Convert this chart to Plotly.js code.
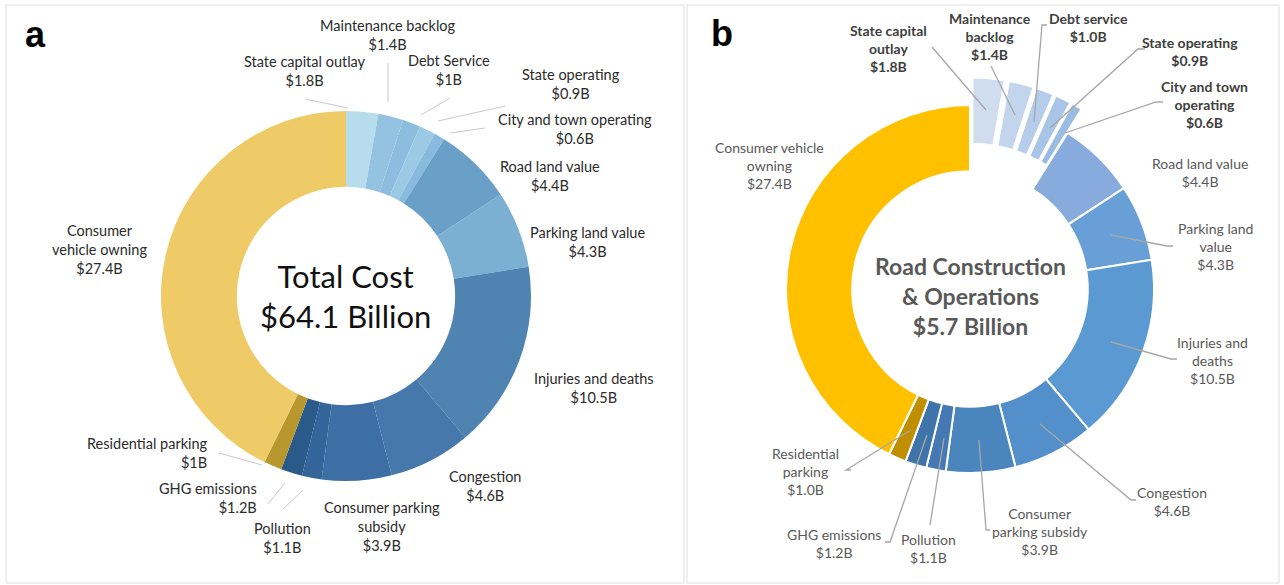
<!DOCTYPE html>
<html>
<head>
<meta charset="utf-8">
<script src="https://cdn.plot.ly/plotly-3.0.1.min.js"></script>
<style>html,body{margin:0;padding:0;background:#fff;}#chart{width:1284px;height:585px;}</style>
</head>
<body>
<div id="chart"></div>
<script>
// ---------- DATA ----------
const categories = ["State capital outlay","Maintenance backlog","Debt service","State operating","City and town operating","Road land value","Parking land value","Injuries and deaths","Congestion","Consumer parking subsidy","Pollution","GHG emissions","Residential parking","Consumer vehicle owning"];
const values = [1.8, 1.4, 1.0, 0.9, 0.6, 4.4, 4.3, 10.5, 4.6, 3.9, 1.1, 1.2, 1.0, 27.4];
const labelNamesA = ["State capital outlay","Maintenance backlog","Debt Service","State operating","City and town operating","Road land value","Parking land value","Injuries and deaths","Congestion","Consumer parking<br>subsidy","Pollution","GHG emissions","Residential parking","Consumer<br>vehicle owning"];
const labelNamesB = ["State capital<br>outlay","Maintenance<br>backlog","Debt service","State operating","City and town<br>operating","Road land value","Parking land<br>value","Injuries and<br>deaths","Congestion","Consumer<br>parking subsidy","Pollution","GHG emissions","Residential<br>parking","Consumer vehicle<br>owning"];
const pulledB = [true, true, true, true, true, false, false, false, false, false, false, false, false, false];
const totalA = "Total Cost<br>$64.1 Billion";
const totalB = "<b>Road Construction<br>&amp; Operations<br>$5.7 Billion</b>";

// ---------- STYLE ----------
const W = 1284, H = 585;
const colorsA = ["#b7dcec","#93c3e1","#8cbddf","#9ccae4","#87badd","#6a9fc8","#7bb0d3","#4f83b1","#4678ac","#3d6fa5","#33659a","#2a5a8a","#b8982e","#eecb66"];
const colorsB = ["#d0ddef","#c3d5ec","#b5cdea","#a8c4e6","#9bbce2","#87abdc","#679fd6","#5a99d2","#5390cb","#4a86bd","#4679b4","#3f74aa","#bf8f00","#ffc000"];
const px = x => x / W, py = y => 1 - y / H;

// geometry of donuts (pixels)
const A = {cx: 346, cy: 296, r: 185, hole: 0.59};
const B = {cx: 970, cy: 289, r: 184, hole: 0.64, pull: 0.15};

// label placement (pixels): [x, yCenter, anchor]
const labelPosA = [[305,71,"center"],[388,35,"center"],[449,70,"center"],[571,84,"center"],[575,129,"center"],[550,176,"center"],[587,242,"center"],[594,388,"center"],[485,486,"center"],[382,526,"center"],[282,538,"center"],[259,498,"right"],[210,453,"right"],[99,249,"center"]];
const labelPosB = [[888,48],[990,36],[1088,27],[1190,51],[1204,104],[1200,172],[1215,246],[1212,360],[1172,501],[1040,531],[928,548],[834,543],[805,471],[769,165]];
const leadersA = [
  [[305,99],[348,108]], [[388,63],[388,102]], [[450,98],[421,115]], [[505,106],[438,121]],
  [[485,128],[450,133]], [[283,509],[303,490]], [[268,504],[285,483]], [[219,453],[262,465]]
];
const leadersB = [
  [[932,47],[986,110]], [[991,66],[1015,115]], [[1047,25],[1042,25],[1034,122]],
  [[1145,49],[1138,49],[1050,128]], [[1163,102],[1156,102],[1065,133]],
  [[1173,246],[1167,246],[1111,235]], [[1177,359],[1171,359],[1111,342]],
  [[1136,500],[1131,500],[1040,424]], [[990,530],[986,530],[979,440]],
  [[930,525],[944,438]], [[885,542],[890,542],[927,435]], [[851,470],[846,470],[911,430]]
];

const fmtA = v => "$" + String(v) + "B";
const fmtB = v => "$" + v.toFixed(1) + "B";

// ---------- TRACES ----------
const traceA = {
  type: "pie", values: values, labels: categories, sort: false, direction: "clockwise", rotation: 0,
  hole: A.hole, textinfo: "none", hoverinfo: "label+value",
  marker: {colors: colorsA, line: {color: "#ffffff", width: 0}},
  domain: {x: [px(A.cx - A.r), px(A.cx + A.r)], y: [py(A.cy + A.r), py(A.cy - A.r)]},
  showlegend: false
};
const halfB = B.r * (1 + B.pull);
const traceB = {
  type: "pie", values: values, labels: categories, sort: false, direction: "clockwise", rotation: 0,
  hole: B.hole, textinfo: "none", hoverinfo: "label+value",
  pull: pulledB.map(p => p ? B.pull : 0),
  marker: {colors: colorsB, line: {color: "#ffffff", width: 2}},
  domain: {x: [px(B.cx - halfB), px(B.cx + halfB)], y: [py(B.cy + halfB), py(B.cy - halfB)]},
  showlegend: false
};

// ---------- ANNOTATIONS ----------
const annotations = [];
annotations.push({xref:"paper", yref:"paper", x: px(35), y: py(34), text: "<b>a</b>", showarrow: false,
  font: {family: "Liberation Sans, Arial, sans-serif", size: 36, color: "#000"}, xanchor: "center", yanchor: "middle"});
annotations.push({xref:"paper", yref:"paper", x: px(722), y: py(33), text: "<b>b</b>", showarrow: false,
  font: {family: "Liberation Sans, Arial, sans-serif", size: 36, color: "#000"}, xanchor: "center", yanchor: "middle"});
annotations.push({xref:"paper", yref:"paper", x: px(A.cx), y: py(A.cy), text: totalA, showarrow: false,
  font: {family: "Lato, sans-serif", size: 31, color: "#111"}, xanchor: "center", yanchor: "middle", align: "center"});
annotations.push({xref:"paper", yref:"paper", x: px(B.cx), y: py(B.cy + 7), text: totalB, showarrow: false,
  font: {family: "Lato, sans-serif", size: 23, color: "#595959"}, xanchor: "center", yanchor: "middle", align: "center"});

values.forEach((v, i) => {
  const p = labelPosA[i];
  annotations.push({xref:"paper", yref:"paper", x: px(p[0]), y: py(p[1]),
    text: labelNamesA[i] + "<br>" + fmtA(v), showarrow: false,
    font: {family: "Lato, sans-serif", size: 14.5, color: "#2b2b2b"},
    xanchor: p[2], yanchor: "middle", align: p[2] === "right" ? "right" : "center"});
});
values.forEach((v, i) => {
  const p = labelPosB[i];
  const bold = pulledB[i];
  const t = labelNamesB[i] + "<br>" + fmtB(v);
  annotations.push({xref:"paper", yref:"paper", x: px(p[0]), y: py(p[1]),
    text: bold ? "<b>" + t + "</b>" : t, showarrow: false,
    font: {family: "Lato, sans-serif", size: 14, color: bold ? "#404040" : "#595959"},
    xanchor: "center", yanchor: "middle", align: "center"});
});

// ---------- SHAPES ----------
const pathOf = pts => pts.map((q, k) => (k ? "L" : "M") + px(q[0]) + "," + py(q[1])).join(" ");
const shapes = [];
shapes.push({type: "rect", xref: "paper", yref: "paper", x0: px(6), x1: px(684), y0: py(583), y1: py(5),
  line: {color: "#dedede", width: 1}, fillcolor: "rgba(0,0,0,0)", layer: "below"});
shapes.push({type: "rect", xref: "paper", yref: "paper", x0: px(687), x1: px(1279), y0: py(583), y1: py(5),
  line: {color: "#dedede", width: 1}, fillcolor: "rgba(0,0,0,0)", layer: "below"});
leadersA.forEach(pts => shapes.push({type: "path", xref: "paper", yref: "paper", path: pathOf(pts),
  line: {color: "#c9c9c9", width: 1}, layer: "above"}));
leadersB.forEach(pts => shapes.push({type: "path", xref: "paper", yref: "paper", path: pathOf(pts),
  line: {color: "#a6a6a6", width: 1.3}, layer: "above"}));

const layout = {
  width: W, height: H, margin: {l: 0, r: 0, t: 0, b: 0},
  paper_bgcolor: "#ffffff", plot_bgcolor: "#ffffff", showlegend: false,
  annotations: annotations, shapes: shapes
};
Plotly.newPlot("chart", [traceA, traceB], layout, {displayModeBar: false, staticPlot: true});
</script>
</body>
</html>
